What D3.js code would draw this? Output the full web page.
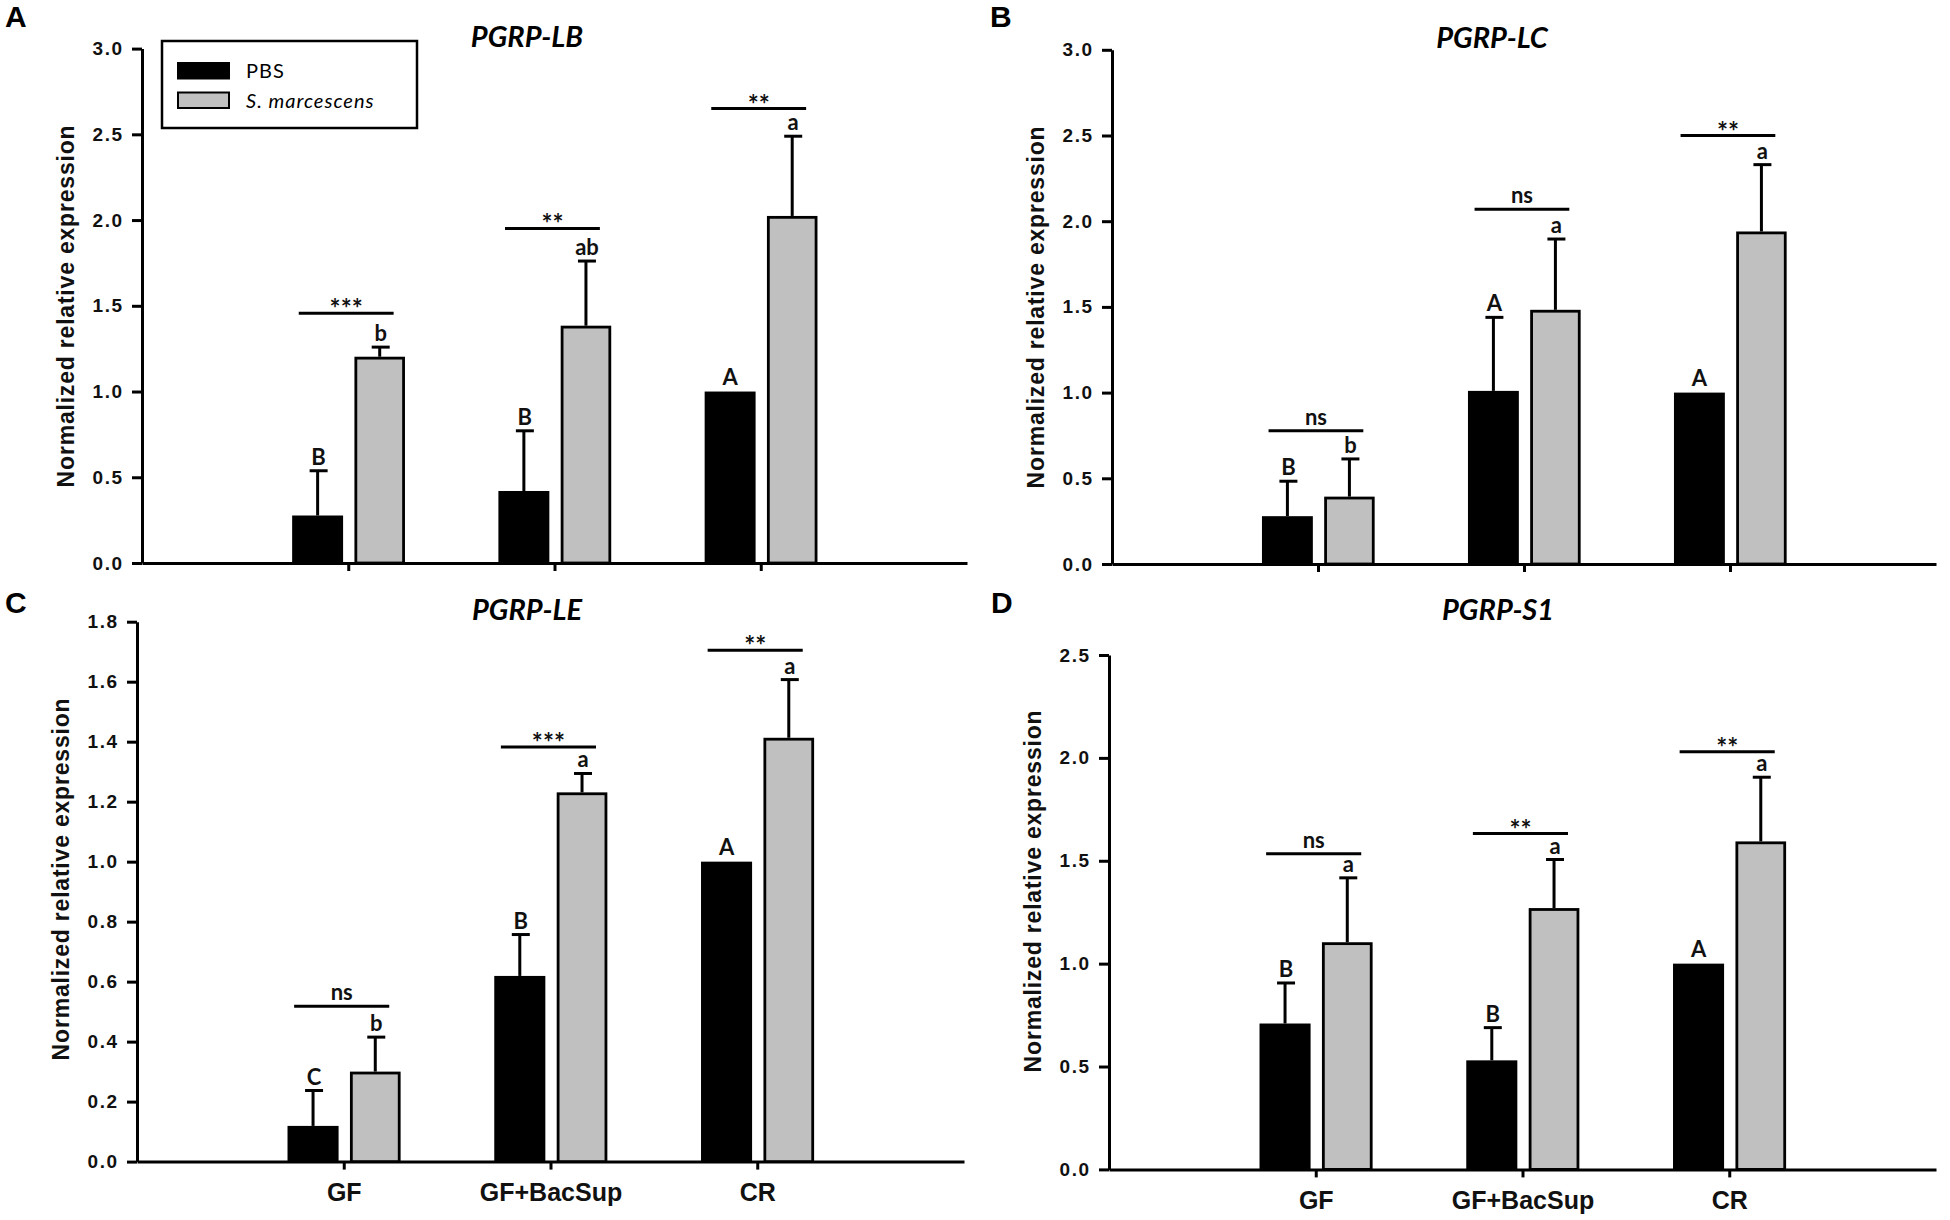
<!DOCTYPE html>
<html>
<head>
<meta charset="utf-8">
<script src="https://cdn.jsdelivr.net/npm/d3@7"></script>
<style>
  html, body { margin: 0; padding: 0; background: #fff; }
  svg { display: block; }
</style>
</head>
<body>
<script>
// ---- data ----
var groups = ['GF', 'GF+BacSup', 'CR'];
var seriesNames = ['PBS', 'S. marcescens'];
var geneNames = ['PGRP-LB', 'PGRP-LC', 'PGRP-LE', 'PGRP-S1'];
var panelLetters = ['A', 'B', 'C', 'D'];

// mean and upper error (SE) per panel, per group
var pbsMean = [[0.277, 0.42, 1.0], [0.279, 1.01, 1.0], [0.119, 0.619, 1.0], [0.709, 0.53, 1.0]];
var pbsErr  = [[0.261, 0.351, 0], [0.204, 0.429, 0], [0.118, 0.138, 0], [0.197, 0.159, 0]];
var smMean  = [[1.203, 1.384, 2.024], [0.393, 1.483, 1.94], [0.30, 1.231, 1.413], [1.104, 1.27, 1.594]];
var smErr   = [[0.056, 0.377, 0.465], [0.22, 0.413, 0.39], [0.115, 0.063, 0.194], [0.313, 0.236, 0.312]];

var pbsLetters = [['B', 'B', 'A'], ['B', 'A', 'A'], ['C', 'B', 'A'], ['B', 'B', 'A']];
var smLetters  = [['b', 'ab', 'a'], ['b', 'a', 'a'], ['b', 'a', 'a'], ['a', 'a', 'a']];
var sigLabels  = [['***', '**', '**'], ['ns', 'ns', '**'], ['ns', '***', '**'], ['ns', '**', '**']];
var sigLevels  = [[1.457, 1.951, 2.65], [0.778, 2.07, 2.50], [0.518, 1.382, 1.705], [1.534, 1.632, 2.03]];

var yMax  = [3.0, 3.0, 1.8, 2.5];
var yStep = [0.5, 0.5, 0.2, 0.5];

// ---- layout (pixels) ----
var W = 1950, H = 1220;
var layout = [
  {x0: 142,  x1: 967,  yTop: 48.6,  yBot: 563,    lx: 5,   ly: 27,  tx: 527,  ty: 47,  labY: 306},
  {x0: 1112, x1: 1936, yTop: 49.8,  yBot: 564,    lx: 990, ly: 27,  tx: 1492, ty: 48,  labY: 307},
  {x0: 137,  x1: 964,  yTop: 621.7, yBot: 1161.6, lx: 5,   ly: 613, tx: 527,  ty: 620, labY: 879},
  {x0: 1109, x1: 1936, yTop: 655,   yBot: 1169.4, lx: 991, ly: 613, tx: 1498, ty: 620, labY: 891}
];
var grey = '#c0c0c0';
var sansBold = '"Liberation Sans", Arial, sans-serif';
var lato = 'Lato, "Open Sans", sans-serif';

var svg = d3.select('body').append('svg')
    .attr('width', W).attr('height', H)
    .style('background', '#fff');

layout.forEach(function(L, p) {
    var g = svg.append('g').attr('class', 'panel');
    var x = d3.scaleLinear().domain([0, 4]).range([L.x0, L.x1]);
    var y = d3.scaleLinear().domain([0, yMax[p]]).range([L.yBot, L.yTop]);
    var n = Math.round(yMax[p] / yStep[p]);
    var ticks = d3.range(0, n + 1).map(function(i) { return +(i * yStep[p]).toFixed(1); });

    // axes
    var ya = g.append('g')
        .attr('transform', 'translate(' + L.x0 + ',0)')
        .call(d3.axisLeft(y).tickValues(ticks).tickFormat(d3.format('.1f'))
            .tickSize(10).tickSizeOuter(0).tickPadding(8.5));
    var xa = g.append('g')
        .attr('transform', 'translate(0,' + L.yBot + ')')
        .call(d3.axisBottom(x).tickValues([1, 2, 3])
            .tickFormat(function(d) { return p >= 2 ? groups[d - 1] : ''; })
            .tickSize(8).tickSizeOuter(0).tickPadding(14));
    [ya, xa].forEach(function(a) {
        a.select('.domain').attr('stroke', '#000').attr('stroke-width', 3);
        a.selectAll('.tick line').attr('stroke', '#000').attr('stroke-width', 3);
    });
    ya.selectAll('.tick text')
        .attr('fill', '#111')
        .style('font-family', sansBold).style('font-weight', 'bold')
        .style('font-size', '19px').style('letter-spacing', '1.5px');
    xa.selectAll('.tick text')
        .attr('fill', '#111')
        .style('font-family', sansBold).style('font-weight', 'bold')
        .style('font-size', '25px');

    // y label
    g.append('text')
        .attr('transform', 'translate(' + (L.x0 - 68) + ',' + L.labY + ') rotate(-90)')
        .attr('text-anchor', 'middle')
        .style('font-family', sansBold).style('font-weight', 'bold')
        .style('font-size', '23px').style('letter-spacing', '0.8px')
        .attr('fill', '#111')
        .text('Normalized relative expression');

    // panel letter + title
    g.append('text').attr('x', L.lx).attr('y', L.ly)
        .style('font-family', sansBold).style('font-weight', 'bold').style('font-size', '30px')
        .text(panelLetters[p]);
    g.append('text').attr('x', L.tx).attr('y', L.ty)
        .attr('text-anchor', 'middle')
        .style('font-family', lato).style('font-weight', 'bold').style('font-style', 'italic')
        .style('font-size', '29px')
        .text(geneNames[p]);

    // bars
    var bars = [];
    groups.forEach(function(grp, i) {
        bars.push({c: i + 1, lo: -0.272, hi: -0.025, v: pbsMean[p][i], e: pbsErr[p][i], lab: pbsLetters[p][i], s: 0});
        bars.push({c: i + 1, lo: 0.03, hi: 0.275, v: smMean[p][i], e: smErr[p][i], lab: smLetters[p][i], s: 1});
    });

    // error bars (upper only)
    var eb = g.append('g').attr('stroke', '#000').attr('stroke-width', 3);
    bars.forEach(function(b) {
        if (!b.e) return;
        var cx = (x(b.c + b.lo) + x(b.c + b.hi)) / 2;
        eb.append('line').attr('x1', cx).attr('x2', cx).attr('y1', y(b.v)).attr('y2', y(b.v + b.e));
        eb.append('line').attr('x1', cx - 8).attr('x2', cx + 10).attr('y1', y(b.v + b.e)).attr('y2', y(b.v + b.e));
    });

    g.append('g').selectAll('rect')
        .data(bars)
        .enter().append('rect')
        .attr('x', function(d) { return x(d.c + d.lo) + (d.s ? 1.4 : 0); })
        .attr('width', function(d) { return x(d.c + d.hi) - x(d.c + d.lo) - (d.s ? 2.8 : 0); })
        .attr('y', function(d) { return y(d.v) + (d.s ? 1.4 : 0); })
        .attr('height', function(d) { return y(0) - y(d.v) - (d.s ? 1.4 : 0); })
        .attr('fill', function(d) { return d.s ? grey : '#000'; })
        .attr('stroke', '#000')
        .attr('stroke-width', function(d) { return d.s ? 2.8 : 0; });

    // group letters
    g.append('g').selectAll('text')
        .data(bars)
        .enter().append('text')
        .attr('x', function(d) { return (x(d.c + d.lo) + x(d.c + d.hi)) / 2 + (d.e ? 1 : 0); })
        .attr('y', function(d) { return d.e ? y(d.v + d.e) - 6 : y(d.v) - 7; })
        .attr('text-anchor', 'middle')
        .style('font-family', lato).style('font-weight', 'bold').style('font-size', '22px')
        .attr('fill', '#111')
        .text(function(d) { return d.lab; });

    // significance bars
    groups.forEach(function(grp, i) {
        var yy = y(sigLevels[p][i]);
        var lab = sigLabels[p][i];
        g.append('line')
            .attr('x1', x(i + 1 - 0.24)).attr('x2', x(i + 1 + 0.22))
            .attr('y1', yy).attr('y2', yy)
            .attr('stroke', '#000').attr('stroke-width', 3);
        var star = lab.indexOf('*') >= 0;
        g.append('text')
            .attr('x', x(i + 1 - 0.01))
            .attr('y', star ? yy + 5 : yy - 6)
            .attr('text-anchor', 'middle')
            .style('font-family', lato).style('font-weight', 'bold')
            .style('font-size', star ? '26px' : '22px')
            .attr('fill', '#111')
            .text(lab);
    });

    // legend only in panel A
    if (p === 0) {
        var lg = g.append('g');
        lg.append('rect').attr('x', 162).attr('y', 41).attr('width', 255).attr('height', 87)
            .attr('fill', '#fff').attr('stroke', '#000').attr('stroke-width', 2.5);
        var item = lg.selectAll('.item').data(seriesNames).enter().append('g')
            .attr('transform', function(d, i) { return 'translate(0,' + (i * 29.5) + ')'; });
        item.append('rect').attr('x', 178).attr('y', 63).attr('width', 51).attr('height', 15.5)
            .attr('fill', function(d, i) { return i ? grey : '#000'; })
            .attr('stroke', '#000').attr('stroke-width', 2);
        item.append('text').attr('x', 246).attr('y', 78)
            .style('font-family', lato).style('font-size', '20px').style('letter-spacing', '1px')
            .style('font-style', function(d, i) { return i ? 'italic' : 'normal'; })
            .text(function(d) { return d; });
    }
});
</script>
</body>
</html>
